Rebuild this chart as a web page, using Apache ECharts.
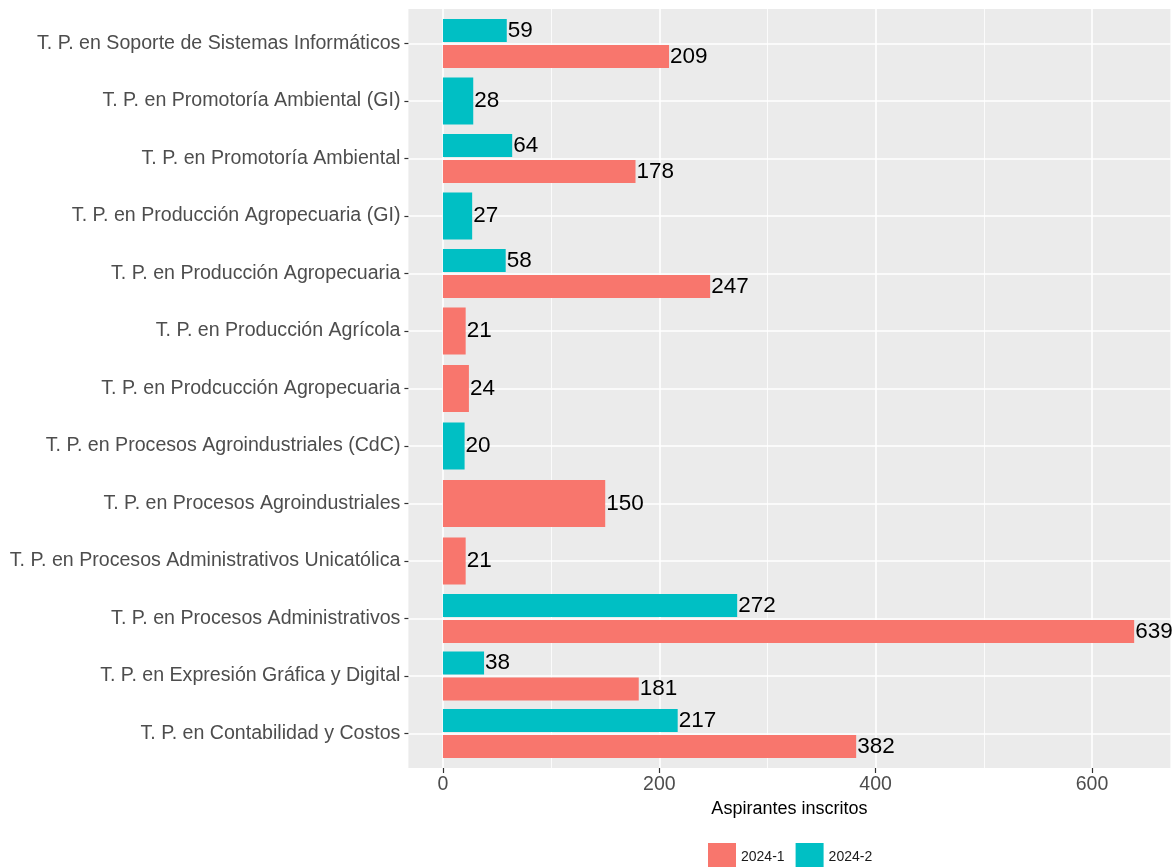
<!DOCTYPE html>
<html>

<head>
    <meta charset="utf-8">
    <script src="https://cdn.jsdelivr.net/npm/echarts@6/dist/echarts.min.js"></script>
    <style>
        body { margin: 0; background: #fff; }
    </style>
</head>

<body>
    <div id="main" style="width: 1175px;height:867px;"></div>
    <script type="text/javascript">
        // categorías de abajo hacia arriba (como coord_flip de ggplot)
        var programas = [
            'T. P. en Contabilidad y Costos',
            'T. P. en Expresión Gráfica y Digital',
            'T. P. en Procesos Administrativos',
            'T. P. en Procesos Administrativos Unicatólica',
            'T. P. en Procesos Agroindustriales',
            'T. P. en Procesos Agroindustriales (CdC)',
            'T. P. en Prodcucción Agropecuaria',
            'T. P. en Producción Agrícola',
            'T. P. en Producción Agropecuaria',
            'T. P. en Producción Agropecuaria (GI)',
            'T. P. en Promotoría Ambiental',
            'T. P. en Promotoría Ambiental (GI)',
            'T. P. en Soporte de Sistemas Informáticos'
        ];
        var inscritos20241 = [382, 181, 639, 21, 150, null, 24, 21, 247, null, 178, null, 209];
        var inscritos20242 = [217, 38, 272, null, null, 20, null, null, 58, 27, 64, 28, 59];
        var xTicks = [0, 200, 400, 600];
        var xTicksMenores = [100, 300, 500];

        var colores = { '2024-1': '#F8766D', '2024-2': '#00BFC4' };
        var fuente = 'Arial, "Liberation Sans", sans-serif';

        // filas con los dos periodos -> barras esquivadas; filas con uno solo -> barra completa
        var dual1 = [], dual2 = [], solo = [];
        programas.forEach(function (p, i) {
            var a = inscritos20241[i], b = inscritos20242[i];
            if (a != null && b != null) {
                dual1.push(a); dual2.push(b); solo.push(null);
            } else {
                dual1.push(null); dual2.push(null);
                var v = a != null ? a : b;
                solo.push({ value: v, itemStyle: { color: a != null ? colores['2024-1'] : colores['2024-2'] } });
            }
        });
        var filas = programas.map(function (p, i) { return i; });

        var etiqueta = {
            show: true,
            position: 'right',
            distance: 1,
            color: '#000',
            fontSize: 22.5,
            fontFamily: fuente
        };

        var myChart = echarts.init(document.getElementById('main'));

        var option = {
            animation: false,
            textStyle: { fontFamily: fuente },
            legend: {
                data: ['2024-1', '2024-2'],
                left: 703,
                top: 838,
                icon: 'rect',
                itemWidth: 28,
                itemHeight: 28,
                itemGap: 11,
                textStyle: { fontSize: 14, color: '#1a1a1a', fontFamily: fuente }
            },
            grid: [{
                // panel gris
                left: 408.4,
                top: 9,
                width: 762,
                height: 759,
                show: true,
                backgroundColor: '#EBEBEB',
                borderWidth: 0
            }, {
                // zona de las barras (13 bandas, sin la expansión 0.6)
                left: 408.4,
                top: 14.75,
                width: 762,
                height: 747.5
            }],
            xAxis: [{
                gridIndex: 0,
                type: 'value',
                min: -31.95,
                max: 672.5,
                name: 'Aspirantes inscritos',
                nameLocation: 'middle',
                nameGap: 27,
                nameTextStyle: { fontSize: 18, color: '#000', fontFamily: fuente },
                axisLine: { show: false, onZero: false },
                axisTick: { show: true, length: 5, customValues: xTicks, lineStyle: { color: '#333', width: 1.2 } },
                axisLabel: {
                    margin: 7,
                    fontSize: 19.5,
                    color: '#4D4D4D',
                    fontFamily: fuente,
                    customValues: xTicks
                },
                splitLine: { show: true, lineStyle: { color: '#fff', width: 1.6 } }
            }, {
                // líneas menores
                gridIndex: 0,
                type: 'value',
                min: -31.95,
                max: 672.5,
                axisLine: { show: false, onZero: false },
                axisTick: { show: false, customValues: xTicksMenores },
                axisLabel: { show: false },
                splitLine: { show: true, lineStyle: { color: '#fff', width: 0.8 } }
            }, {
                gridIndex: 1,
                type: 'value',
                min: -31.95,
                max: 672.5,
                show: false
            }],
            yAxis: [{
                gridIndex: 0,
                type: 'value',
                min: -0.6,
                max: 12.6,
                axisLine: { show: false, onZero: false },
                axisTick: { show: false, customValues: filas },
                axisLabel: { show: false },
                splitLine: { show: true, lineStyle: { color: '#fff', width: 1.6 } }
            }, {
                gridIndex: 1,
                type: 'category',
                data: programas,
                axisLine: { show: false, onZero: false },
                axisTick: { show: true, alignWithLabel: true, length: 4, lineStyle: { color: '#333', width: 1.2 } },
                axisLabel: { margin: 8, fontSize: 19.6, color: '#4D4D4D', fontFamily: fuente },
                splitLine: { show: false }
            }, {
                gridIndex: 1,
                type: 'category',
                data: programas,
                show: false
            }],
            series: [{
                name: '2024-2',
                type: 'bar',
                xAxisIndex: 2,
                yAxisIndex: 1,
                data: dual2,
                barWidth: 23,
                barGap: '13%',
                itemStyle: { color: colores['2024-2'] },
                label: etiqueta
            }, {
                name: '2024-1',
                type: 'bar',
                xAxisIndex: 2,
                yAxisIndex: 1,
                data: dual1,
                barWidth: 23,
                barGap: '13%',
                itemStyle: { color: colores['2024-1'] },
                label: etiqueta
            }, {
                name: 'solo',
                type: 'bar',
                xAxisIndex: 2,
                yAxisIndex: 2,
                data: solo,
                barWidth: 47,
                label: etiqueta
            }]
        };

        myChart.setOption(option);
    </script>
</body>

</html>
